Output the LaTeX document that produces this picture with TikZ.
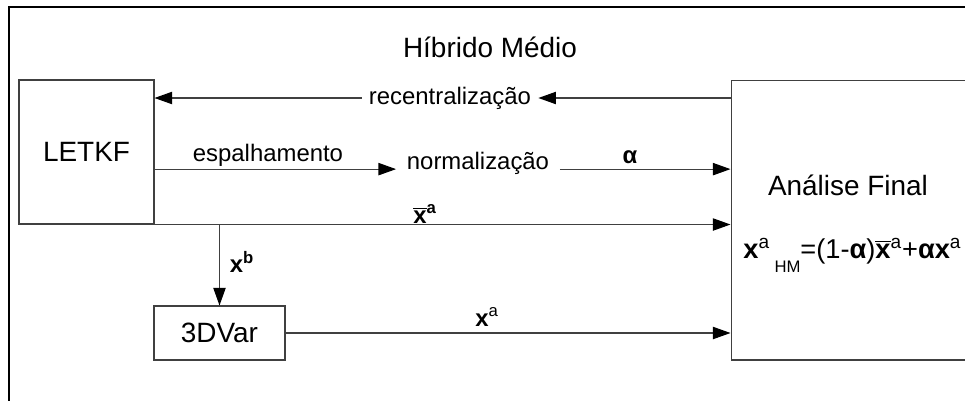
\documentclass[tikz,border=0pt]{standalone}
\usepackage{fontspec}
\setmainfont{Liberation Sans}
\usetikzlibrary{arrows.meta}
\colorlet{edge}{black!75}

\newcommand{\xbar}{$\overline{\hbox{\bfseries x}}$}

\begin{document}
\begin{tikzpicture}[
  x=0.02cm, y=-0.02cm,
  box/.style={draw=edge, line width=0.6pt, inner sep=0pt},
  flow/.style={draw=edge, line width=0.6pt, -{Triangle[length=10pt,width=7pt,color=black]}},
  big/.style={font=\fontsize{15.9}{19}\selectfont},
  lbl/.style={font=\fontsize{13.6}{16}\selectfont},
]
\clip (0,0) rectangle (965,400);
\draw[line width=1.2pt] (9,7) rectangle (1100,500);

% blocos
\node[big] (title) at (490,47) {Híbrido Médio};
\node[box, big, minimum width=2.7cm, minimum height=2.88cm] (letkf) at (86.5,152) {LETKF};
\node[box, minimum width=5.6cm, minimum height=5.6cm] (final) at (871,220) {};
\node[big] (fname) at (848,185) {Análise Final};
\node[box, big, minimum width=2.62cm, minimum height=1.08cm] (var) at (219.5,333) {3DVar};
\node[font=\fontsize{15.5}{19}\selectfont, anchor=base west, inner sep=0pt] (eq) at (743,258)
  {{\bfseries x}\textsuperscript{a}\,\raisebox{-1ex}{\fontsize{9.5}{9.5}\selectfont HM}=(1-{\bfseries α})\xbar\textsuperscript{a}+{\bfseries αx}\textsuperscript{a}};

% rotulos
\node[lbl, inner sep=4pt] (rec) at (450,98) {recentralização};
\node[lbl, inner sep=6pt] (norm) at (478,163) {normalização};
\node[lbl] (spread) at (268,155) {espalhamento};
\node[lbl] (alpha) at (630,157) {\bfseries α};
\node[lbl] (mean) at (425,214) {\xbar\textsuperscript{\bfseries a}};
\node[lbl] (bg) at (242,262) {{\bfseries x}\textsuperscript{\bfseries b}};
\node[lbl] (ana) at (487,317) {{\bfseries x}\textsuperscript{a}};

% setas
\draw[flow] (final.west |- rec) -- (rec.east);
\draw[flow] (rec.west) -- (letkf.east |- rec);
\draw[flow] (letkf.east |- norm.base) -- (norm.base west);
\draw[flow] (norm.base east) -- (final.west |- norm.base);
\draw[flow] (letkf.south east) -- (final.west |- letkf.south);
\draw[flow] (var.north |- letkf.south) -- (var.north);
\draw[flow] (var.east) -- (final.west |- var.east);
\end{tikzpicture}
\end{document}
